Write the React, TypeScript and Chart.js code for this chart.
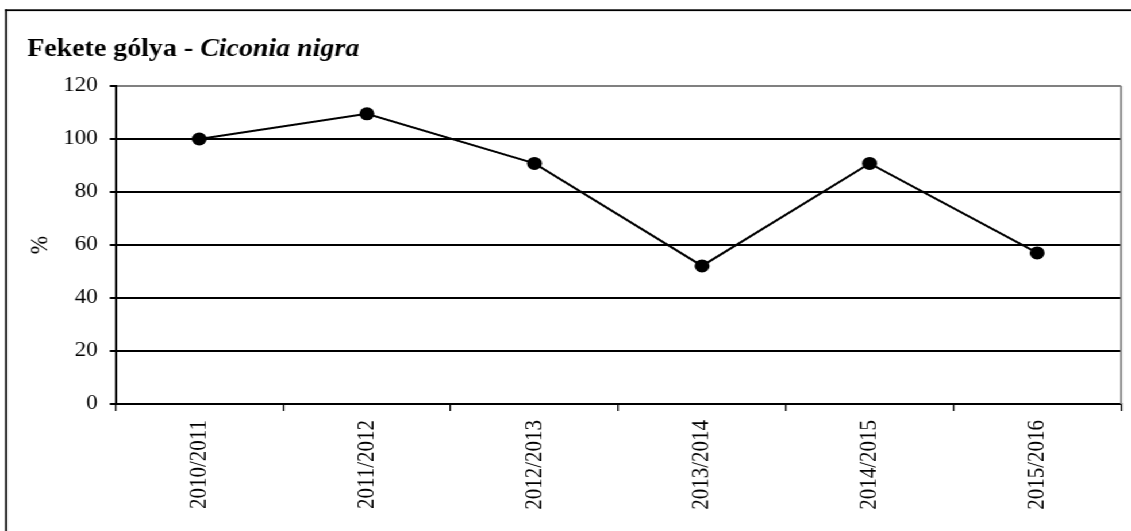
import React, { useEffect, useRef } from 'react';
import { Chart, registerables } from 'chart.js';

Chart.register(...registerables);

// ---- data ----
const seasons = ['2010/2011', '2011/2012', '2012/2013', '2013/2014', '2014/2015', '2015/2016'];
const percentValues = [100, 109.5, 90.8, 52.1, 90.8, 57];
const yMin = 0;
const yMax = 120;
const yStep = 20;
const titleMain = 'Fekete gólya - ';
const titleLatin = 'Ciconia nigra';
const yAxisTitle = '%';

// ---- layout ----
const PAGE_W = 1131;
const CANVAS_W = 984;
const CANVAS_H = 531;
const STRETCH = PAGE_W / CANVAS_W;
const FONT = '"Liberation Serif", "Times New Roman", Times, serif';

export default function App() {
  const ref = useRef<HTMLCanvasElement>(null);

  useEffect(() => {
    const canvas = ref.current;
    if (!canvas) return;

    const decorPlugin = {
      id: 'decor',
      afterDraw(chart: any) {
        const { ctx, chartArea: ca } = chart;
        ctx.save();
        // outer frame (left + top)
        ctx.fillStyle = '#000';
        ctx.fillRect(4.4, 9.3, 1.75, CANVAS_H);
        ctx.fillRect(4.4, 9.3, CANVAS_W, 1.8);
        // plot area right border (gray)
        ctx.strokeStyle = '#808080';
        ctx.lineWidth = 1.8;
        ctx.beginPath();
        ctx.moveTo(ca.right, ca.top);
        ctx.lineTo(ca.right, ca.bottom);
        ctx.stroke();
        // title
        ctx.fillStyle = '#000';
        ctx.textAlign = 'left';
        ctx.textBaseline = 'alphabetic';
        const x0 = 23.7;
        const yb = 55.5;
        ctx.font = `bold 24.3px ${FONT}`;
        ctx.fillText(titleMain, x0, yb);
        const w = ctx.measureText(titleMain).width;
        ctx.font = `italic bold 24.3px ${FONT}`;
        ctx.fillText(titleLatin, x0 + w, yb);
        ctx.restore();
      },
    };

    const chart = new Chart(canvas, {
      type: 'line',
      data: {
        labels: seasons,
        datasets: [
          {
            data: percentValues,
            borderColor: '#000',
            backgroundColor: '#000',
            borderWidth: 2,
            pointRadius: 6.5,
            pointBackgroundColor: '#000',
            pointBorderColor: '#000',
            pointBorderWidth: 0,
            tension: 0,
            fill: false,
          },
        ],
      },
      options: {
        animation: false,
        responsive: false,
        maintainAspectRatio: false,
        layout: { padding: { left: 0, top: 86, right: 8.7, bottom: 0 } },
        plugins: {
          legend: { display: false },
          title: { display: false },
          tooltip: { enabled: false },
        },
        scales: {
          x: {
            type: 'category',
            offset: true,
            grid: {
              offset: true,
              drawOnChartArea: false,
              drawTicks: true,
              tickLength: 7,
              color: '#000',
              lineWidth: 1.3,
            },
            border: { display: true, color: '#000', width: 2 },
            ticks: {
              autoSkip: false,
              minRotation: 90,
              maxRotation: 90,
              padding: 9,
              color: '#000',
              font: { family: FONT, size: 21 },
            },
            afterFit: (s: any) => {
              s.height = 127;
            },
          },
          y: {
            min: yMin,
            max: yMax,
            ticks: {
              stepSize: yStep,
              padding: 10.5,
              color: '#000',
              font: { family: FONT, size: 20 },
            },
            grid: {
              color: (c: any) => (c.tick && c.tick.value === yMax ? '#808080' : '#000'),
              tickColor: '#000',
              lineWidth: 2,
              tickLength: 5,
              drawTicks: true,
            },
            border: { display: true, color: '#000', width: 2 },
            title: {
              display: true,
              text: yAxisTitle,
              color: '#000',
              font: { family: FONT, size: 22 },
              padding: { top: 22.5, bottom: 0 },
            },
            afterFit: (s: any) => {
              s.width = 100.5;
            },
          },
        },
      },
      plugins: [decorPlugin],
    });

    return () => chart.destroy();
  }, []);

  return (
    <div
      style={{
        position: 'absolute',
        left: 0,
        top: 0,
        width: CANVAS_W,
        height: CANVAS_H,
        transform: `scaleX(${STRETCH})`,
        transformOrigin: '0 0',
        background: '#fff',
      }}
    >
      <canvas ref={ref} width={CANVAS_W} height={CANVAS_H} style={{ display: 'block' }} />
    </div>
  );
}
